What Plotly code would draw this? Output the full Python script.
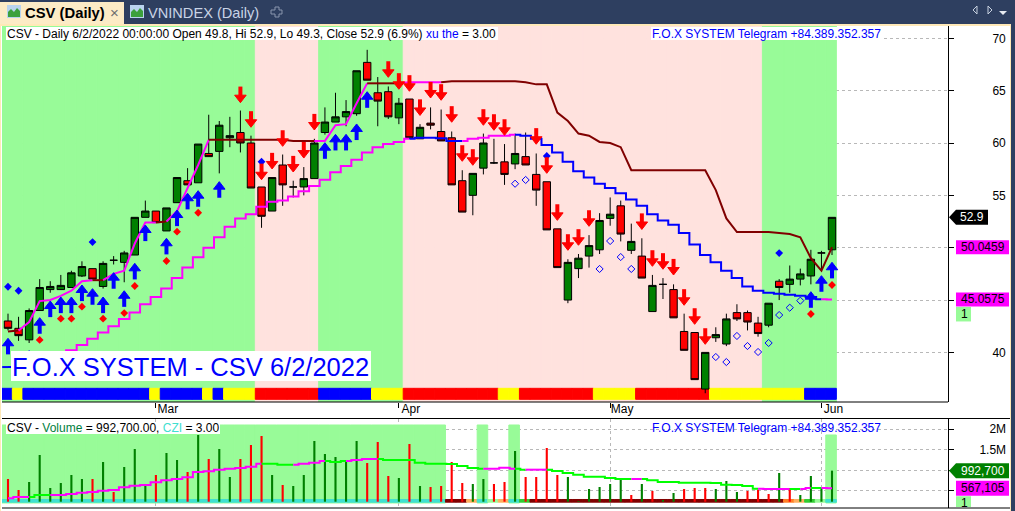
import plotly.graph_objects as go

W, H = 1015, 511
bars = list(range(79))
month_ticks = [14, 37, 57, 77]
month_labels = ["Mar", "Apr", "May", "Jun"]

open_ = [43.0,42.3,41.2,44.0,46.0,46.0,46.2,47.3,48.0,46.3,48.8,48.6,49.3,52.9,53.5,51.6,54.3,56.4,56.2,59.0,
         59.2,60.5,61.0,60.0,55.8,53.5,57.9,55.8,55.8,56.6,61.0,62.0,62.5,62.8,67.7,64.8,64.9,62.4,64.2,60.4,
         61.9,61.1,60.5,56.4,55.0,57.6,58.1,58.2,58.0,58.7,57.0,56.3,51.8,45.0,48.0,49.2,49.8,52.8,54.0,49.75,
         49.2,43.9,46.5,46.0,42.0,41.9,36.5,41.4,40.8,43.8,43.8,42.8,42.6,46.8,46.5,47.0,47.3,49.5,49.8]
high = [43.7,43.4,44.2,47.0,46.8,47.4,47.8,48.7,48.0,48.7,49.2,49.7,52.9,54.5,53.5,53.8,56.7,57.6,59.9,62.7,
        62.1,62.5,63.1,60.7,55.8,56.7,58.9,56.4,57.7,60.4,63.4,64.8,64.1,66.9,68.9,66.3,65.4,64.3,64.2,61.8,
        63.4,63.2,61.1,57.4,57.1,60.9,60.4,59.9,60.9,61.0,59.0,56.3,51.8,48.9,49.4,51.2,53.3,54.8,54.5,52.3,
        50.9,47.4,47.1,46.5,43.7,41.9,40.0,42.4,43.7,44.6,44.0,43.4,44.7,47.0,48.3,48.0,49.8,49.7,52.9]
low = [42.1,41.1,40.9,44.0,45.7,46.0,46.2,47.2,47.0,46.1,48.4,46.7,49.3,52.9,52.4,51.6,54.3,56.0,56.2,58.7,
       57.1,59.6,59.1,55.7,51.9,53.5,54.0,54.8,55.0,56.6,60.8,62.0,61.6,62.6,66.0,61.6,62.3,61.8,60.4,60.4,
       61.3,60.2,56.0,53.4,53.1,57.0,58.0,56.0,57.5,57.9,54.0,51.7,48.1,44.7,47.1,48.1,49.4,52.1,50.6,49.4,
       47.1,43.9,45.1,43.3,40.2,37.4,36.1,41.0,40.6,43.0,42.1,41.5,42.4,45.0,45.7,46.4,46.5,47.8,49.3]
close = [42.3,41.6,44.0,46.2,46.3,46.4,47.6,48.2,47.0,48.5,48.8,49.5,52.9,53.5,52.4,53.8,56.7,56.0,59.9,58.7,
         61.7,60.7,60.0,55.7,53.0,56.7,56.0,55.8,56.6,60.0,62.0,62.5,63.0,66.9,66.0,64.0,62.5,63.8,60.5,61.5,
         61.7,60.2,56.0,53.4,57.1,60.0,58.1,57.0,59.0,57.9,55.5,51.7,48.1,48.6,49.0,50.2,52.6,53.2,51.3,50.6,
         47.1,46.4,46.5,43.3,40.2,37.4,40.0,41.7,43.2,43.2,42.9,41.8,44.7,46.2,47.0,47.5,48.9,49.5,52.9]

upper_line = [42.0,42.1,42.9,44.9,45.0,45.4,45.9,46.8,46.9,46.9,47.5,47.8,50.4,52.4,52.4,52.5,53.5,55.7,57.9,60.3,
              60.3,60.3,60.3,60.3,60.3,60.3,60.3,60.2,60.2,60.2,60.2,61.7,61.8,63.8,65.7,65.7,65.7,65.7,65.8,65.8,
              65.8,65.8,65.9,65.9,65.9,65.9,65.9,65.9,65.9,65.8,65.6,65.6,62.9,62.1,60.9,60.7,60.1,60.0,59.6,57.4,
              57.4,57.4,57.4,57.4,57.4,57.4,57.4,55.5,52.8,51.5,51.5,51.5,51.5,51.4,51.3,51.0,49.0,47.8,50.05]
upper_flags = "BBMMMMMMMBMMMMMBMMMMBBBBBBBBBBMMMMMBBBMMMMBBBBBBBBBBBBBBBBBBBBBBBBBBBBBBBBBBBBBBM"[:79]
lower_line = [38.6,38.8,39.0,39.2,39.4,39.8,40.2,40.7,41.3,41.9,42.5,43.2,43.8,44.6,45.3,46.1,47.1,48.1,49.1,50.0,
              51.0,52.0,52.8,53.2,53.9,54.4,54.5,54.9,55.4,55.9,56.5,57.2,57.8,58.4,59.1,59.6,59.9,60.1,60.4,60.5,
              60.5,60.45,60.2,60.2,60.4,60.5,60.7,60.7,60.8,60.7,60.4,59.8,59.1,58.2,57.3,56.7,56.1,55.7,55.2,54.6,
              54.0,53.2,52.6,52.2,51.4,50.3,49.3,48.6,47.8,47.1,46.3,45.9,45.7,45.6,45.5,45.4,45.3,45.07,45.06]
lower_flags = "L"*6 + "M"*33 + "L"*5 + "M"*5 + "L"*29 + "M"

buy_i = [0,2,3,4,5,6,7,8,9,10,11,12,13,15,16,17,18,20,30,31,32,33,34,76,77,78]
buy_v = [40.68,39.5,42.65,44.24,44.62,44.62,45.77,45.42,44.62,46.95,45.22,47.84,51.5,50.23,52.93,54.53,54.78,55.64,
         59.36,60.16,60.16,61.15,64.23,45.13,46.66,47.94]
sell_i = [22,23,24,25,26,27,28,29,36,37,38,39,40,41,42,43,44,45,46,47,50,51,52,53,54,55,60,61,62,63,64,65,66]
sell_v = [64.52,62.17,57.16,58.19,60.35,57.9,59.23,61.91,66.94,65.8,65.61,63.3,64.97,64.75,62.65,58.92,58.54,62.36,
          61.88,61.4,60.55,57.77,53.28,50.42,50.9,52.71,52.41,48.89,48.61,48.06,45.17,43.35,41.44]
blue_dot_i = [0,1,8,24,51,73]
blue_dot_v = [46.27,45.89,50.54,58.21,58.76,49.49]
red_dot_i = [3,5,6,7,9,11,12,15,16,18,76,78]
red_dot_v = [41.19,43.22,43.22,44.37,43.22,43.76,46.34,48.73,51.53,53.34,43.67,46.44]
open_dot_i = [48,49,56,57,58,59,67,68,69,70,71,72,73,74,75]
open_dot_v = [56.11,56.47,47.97,50.64,49.11,47.97,39.56,39.08,41.57,40.61,40.04,40.9,43.57,44.27,44.94]

regime = ["G"]*24 + ["P"]*6 + ["G"]*8 + ["P"]*34 + ["G"]*7
ribbon = (["b"]*1 + ["y"]*1 + ["b"]*12 + ["y"]*1 + ["b"]*4 + ["y"]*1 + ["b"]*1 + ["y"]*3 + ["r"]*6 + ["b"]*5 + ["y"]*3
          + ["r"]*9 + ["y"]*2 + ["r"]*7 + ["y"]*4 + ["r"]*7 + ["y"]*9 + ["b"]*3)

volume = [.79,.524,.718,1.372,.573,.694,.887,.79,.79,1.202,.476,1.081,1.517,.645,.887,1.42,1.251,.96,1.856,1.275,
          1.517,.839,1.275,1.614,1.832,.887,.645,.621,.887,1.711,1.396,1.323,1.202,1.711,1.178,1.686,.863,.815,1.638,
          .621,.597,.621,1.202,.694,.669,.79,.669,.718,1.469,.839,.839,1.541,.887,.839,.258,.548,.597,.669,.766,.403,
          .669,.5,.282,.452,.548,.573,.573,.548,.742,.476,.5,.531,.427,.936,.573,.403,.863,.573,.9927]
vol_up = "RRGGGGGGRGRGGGRGGRGRGGRRRGRGGGGGGGRRRGRGRRRRGGRRGRRRRGGGGGGRGRGGRRRGGGRRRGRGGGG"[:79]
vol_ma = [.323,.355,.355,.403,.403,.403,.427,.459,.476,.507,.524,.59,.628,.645,.711,.759,.79,.832,.96,.977,
          1.016,1.04,1.057,1.088,1.161,1.161,1.137,1.137,1.161,1.185,1.226,1.202,1.226,1.251,1.275,1.275,1.251,1.251,1.251,
          1.185,1.161,1.161,1.154,1.105,1.057,1.04,1.04,1.064,1.04,1.016,1.016,1.016,.984,.936,.895,.846,.846,.815,.79,.79,
          .79,.759,.718,.718,.701,.701,.701,.694,.653,.645,.621,.556,.548,.548,.548,.548,.573,.573,.567]
vol_ma_flags = "MMMGGMMMMMMMMMMMMMMMMMMMMGGGMMMGGMMMGGGGGGGGGGMMMGMMGGGGGGGGMGGGGGGGGGGGMMMGMGM"[:79]
vol_bg = ["G"]*42 + ["N"]*3 + ["G"] + ["N"]*2 + ["G"] + ["N"]*29 + ["G"]
vol_bg_top = [2.098]*78 + [1.856]
czi = ["c"]*42 + ["d"]*2 + ["o"] + ["c"] + ["l"] + ["o"] + ["c"] + ["g"] + ["d"]*24 + ["f"] + ["o"] + ["g"] + ["l"] + ["c"]

price_ticks = [40,45,50,55,60,65,70]
price_labels = ["40","","","55","60","65","70"]
vol_ticks = [.5,1,1.5,2]
vol_labels = ["","","1.5M","\u00a0\u00a0\u00a02M"]
last_close = 52.9
ma_upper_last = 50.0459
ma_lower_last = 45.0575
last_volume = .9927
last_vol_ma = .567105

GREEN = "#98FB98"; PINK = "#FFE2DE"; CANDLE_G = "#008000"; CANDLE_R = "#FF0000"
MAG = "#FF00FF"; BROWN = "#800000"; BLUE = "#0000FF"
FONT = "Liberation Sans, Arial, sans-serif"

P_TOP, P_BOT = 71.175, 35.263
V_TOP, V_BOT = 2.243, .088
PX = (P_TOP - P_BOT) / 376.0  # price per screen pixel
xp = lambda p: p / W
yp = lambda p: 1 - p / H
price_y = lambda v: 26 + (P_TOP - v) / PX
vol_y = lambda v: 419 + (V_TOP - v) / (V_TOP - V_BOT) * 89

fig = go.Figure()
XA = dict(xaxis="x", yaxis="y")
VA = dict(xaxis="x2", yaxis="y2")
band_x = [b - 0.09 for b in bars]  # colour bands sit a pixel left of the candle centres


def solid(colors):
    return dict(color=colors, line=dict(width=1, color=colors))


fig.add_bar(x=band_x, y=[P_TOP - P_BOT]*79, base=P_BOT, width=1,
            marker=solid([GREEN if r == "G" else PINK for r in regime]), **XA)
rib_c = {"b": BLUE, "y": "#FFFF00", "r": "#FF0000"}
fig.add_bar(x=band_x, y=[1.05]*79, base=35.52, width=1,
            marker=solid([rib_c[c] for c in ribbon]), **XA)


def segments(vals, flags, cmap, shape, width, axes):
    start = 0
    n = len(vals)
    for k in range(1, n + 1):
        if k == n or flags[k] != flags[start]:
            a = max(start - 1, 0)
            fig.add_scatter(x=bars[a:k], y=vals[a:k], mode="lines",
                            line=dict(color=cmap[flags[start]], width=width, shape=shape), **axes)
            start = k


fig.add_scatter(x=[-0.55, 0], y=lower_line[:1]*2, mode="lines", line=dict(color=BLUE, width=2), **XA)
segments(lower_line, lower_flags, {"M": MAG, "L": BLUE}, "hvh", 2, XA)
segments(upper_line, upper_flags, {"M": MAG, "B": BROWN}, "linear", 2, XA)

fig.add_candlestick(x=bars, open=open_, high=high, low=low, close=close, whiskerwidth=0,
                    increasing=dict(line=dict(color="black", width=1), fillcolor=CANDLE_G),
                    decreasing=dict(line=dict(color="black", width=1), fillcolor=CANDLE_R), **XA)

fig.add_scatter(x=blue_dot_i, y=blue_dot_v, mode="markers", marker=dict(symbol="diamond", size=6, color=BLUE), **XA)
fig.add_scatter(x=red_dot_i, y=red_dot_v, mode="markers", marker=dict(symbol="diamond", size=6, color="#FF0000"), **XA)
fig.add_scatter(x=open_dot_i, y=open_dot_v, mode="markers",
                marker=dict(symbol="diamond-open", size=5.5, color=BLUE, line=dict(width=1, color=BLUE)), **XA)

# arrows: a stem plus a head, drawn from the signal values
fig.add_scatter(x=buy_i, y=[v - 3.5 * PX for v in buy_v], mode="markers",
                marker=dict(symbol="line-ns", size=8, line=dict(width=4, color=BLUE)), **XA)
fig.add_scatter(x=buy_i, y=[v + 2 * PX for v in buy_v], mode="markers",
                marker=dict(symbol="triangle-up", size=10, color=BLUE, line=dict(width=1, color=BLUE)), **XA)
fig.add_scatter(x=sell_i, y=[v + 3.5 * PX for v in sell_v], mode="markers",
                marker=dict(symbol="line-ns", size=8, line=dict(width=4, color="#FF0000")), **XA)
fig.add_scatter(x=sell_i, y=[v - 2 * PX for v in sell_v], mode="markers",
                marker=dict(symbol="triangle-down", size=10, color="#FF0000", line=dict(width=1, color="#FF0000")), **XA)

# volume pane
VB = .209
fig.add_bar(x=band_x, y=[t - VB for t in vol_bg_top], base=VB, width=1,
            marker=solid([GREEN if c == "G" else "rgba(0,0,0,0)" for c in vol_bg]), **VA)
czi_c = {"c": "#40E0D0", "d": "#800000", "o": "#FFB060", "l": "#98FB98", "g": "#32CD32", "f": "#FF7F27"}
fig.add_bar(x=band_x, y=[.065]*79, base=.229, width=1,
            marker=solid([czi_c[c] for c in czi]), **VA)
fig.add_bar(x=bars, y=[v - .24 for v in volume], base=.24, width=.2,
            marker=dict(color=[CANDLE_G if c == "G" else CANDLE_R for c in vol_up], line_width=0), **VA)
segments(vol_ma, vol_ma_flags, {"M": MAG, "G": "#00FF00"}, "hvh", 2, VA)

grid = dict(showgrid=True, gridcolor="#B8B8B8", griddash="dot", gridwidth=1, zeroline=False)
fig.update_layout(
    width=W, height=H, margin=dict(l=0, r=0, t=0, b=0, pad=0), autosize=False,
    paper_bgcolor="white", plot_bgcolor="white", showlegend=False, barmode="overlay",
    boxgap=0.3, boxgroupgap=0, hovermode=False,
    font=dict(family=FONT, size=12, color="black"),
    xaxis=dict(domain=[xp(2), xp(948)], range=[-0.568, 88.98], anchor="y", rangeslider_visible=False,
               tickmode="array", tickvals=month_ticks, ticktext=month_labels, ticks="outside", ticklen=5,
               tickcolor="black", ticklabelshift=12, ticklabelstandoff=-9, showline=False, **grid),
    yaxis=dict(domain=[yp(402), yp(26)], range=[P_BOT, P_TOP], side="right", anchor="x",
               tickmode="array", tickvals=price_ticks, ticktext=price_labels, ticks="outside", ticklen=5,
               tickcolor="black", ticklabelstandoff=36, showline=True, linecolor="black", linewidth=1, **grid),
    xaxis2=dict(domain=[xp(2), xp(948)], matches="x", anchor="y2", tickmode="array", tickvals=month_ticks,
                showticklabels=False, ticks="", **grid),
    yaxis2=dict(domain=[yp(508), yp(419)], range=[V_BOT, V_TOP], side="right", anchor="x2",
                tickmode="array", tickvals=vol_ticks, ticktext=vol_labels, ticks="outside", ticklen=5,
                tickcolor="black", ticklabelstandoff=23, showline=True, linecolor="black", linewidth=1, **grid),
)

shapes = []
def rect(x0, y0, x1, y1, color, layer="above"):
    shapes.append(dict(type="rect", xref="paper", yref="paper", x0=xp(x0), x1=xp(x1), y0=yp(y0), y1=yp(y1),
                       fillcolor=color, line_width=0, layer=layer))
def hline(x0, x1, y, color="black", w=1):
    shapes.append(dict(type="line", xref="paper", yref="paper", x0=xp(x0), x1=xp(x1), y0=yp(y), y1=yp(y),
                       line=dict(color=color, width=w), layer="above"))
def poly(pts, fill, line=None, w=0):
    d = "M" + " L".join(f"{xp(a):.5f},{yp(b):.5f}" for a, b in pts) + " Z"
    shapes.append(dict(type="path", xref="paper", yref="paper", path=d, fillcolor=fill,
                       line=dict(color=line or fill, width=w), layer="above"))

NAVY = "#2E3F60"; CREAM = "#FFE9B8"
rect(0, 0, W, 24, NAVY)
rect(0, 24, W, 26, CREAM)
rect(1011, 0, W, H, NAVY)
rect(1010, 24, 1011, H, CREAM)
rect(0, 24, 1, H, CREAM)
rect(1, 26, 2, 402, "white")
rect(0, 2, 124, 24, "#FCEBC6")
# tab icons
for ix in (7, 130):
    rect(ix, 5, ix + 14, 18, "#B9D3EE")
    poly([(ix + 1, 17), (ix + 1, 12), (ix + 4, 9), (ix + 7, 12), (ix + 10, 8), (ix + 13, 11), (ix + 13, 17)], "#3CA03C")
# add-tab cross, navigation glyphs
poly([(275, 7), (279, 7), (279, 10), (282, 10), (282, 14), (279, 14), (279, 17), (275, 17), (275, 14), (271, 14), (271, 10), (275, 10)],
     "rgba(0,0,0,0)", "#8A97AE", 1)
poly([(977, 6), (977, 14), (973, 10)], "rgba(0,0,0,0)", "#C8D2E0", 1)
poly([(988, 6), (988, 14), (992, 10)], "rgba(0,0,0,0)", "#C8D2E0", 1)
poly([(999, 11), (1007, 11), (1003, 15)], "#E8ECF2")
# frame lines
hline(2, 948, 402)
hline(2, 1010, 418.5)
hline(2, 1010, 508)
# legend boxes
rect(6, 27, 498, 40, "white")
rect(651, 27, 884, 40, "white")
rect(11, 351, 371, 381, "white")
rect(6, 423, 220, 434, "white")
# value tags
yc = price_y(last_close)
poly([(949, yc), (956, yc - 7.5), (988, yc - 7.5), (988, yc + 7.5), (956, yc + 7.5)], "black")
rect(956, price_y(ma_upper_last) - 7, 1009, price_y(ma_upper_last) + 7, MAG)
rect(956, price_y(ma_lower_last) - 7, 1009, price_y(ma_lower_last) + 7, MAG)
rect(956, price_y(ma_lower_last) + 7.5, 971, price_y(ma_lower_last) + 22, GREEN)
yc = vol_y(last_volume)
poly([(949, yc), (956, yc - 7.5), (1009, yc - 7.5), (1009, yc + 7.5), (956, yc + 7.5)], CANDLE_G)
rect(956, vol_y(last_vol_ma) - 7.5, 1009, vol_y(last_vol_ma) + 7.5, MAG)
rect(956, vol_y(last_vol_ma) + 8, 971, 507, GREEN)
fig.update_layout(shapes=shapes)

annots = []
def text(x, y, s, size=12, color="black", anchor="left", bold=False):
    annots.append(dict(xref="paper", yref="paper", x=xp(x), y=yp(y), text=f"<b>{s}</b>" if bold else s, showarrow=False,
                       xanchor=anchor, yanchor="middle", borderpad=0, font=dict(size=size, color=color, family=FONT)))

text(24, 13, "CSV (Daily)", 14.8, "black", bold=True)
text(147, 13, "VNINDEX (Daily)", 14.6, "#C9D4E6")
text(114, 12, "×", 15, "#6E6E6E", "center")
text(5.5, 33.5, 'CSV - Daily 6/2/2022 00:00:00 Open 49.8, Hi 52.9, Lo 49.3, Close 52.9 (6.9%) '
              '<span style="color:#0000FF">xu the</span> = 3.00')
fb = "F.O.X SYSTEM Telegram +84.389.352.357"
text(651, 33.5, fb, 12, BLUE)
text(651, 427.5, fb, 12, BLUE)
text(11, 367, "F.O.X SYSTEM - CSV 6/2/2022", 25.5, BLUE)
text(5.5, 428, 'CSV - <span style="color:#008040">Volume</span> = 992,700.00, '
             '<span style="color:#40E0D0">CZI</span> = 3.00')
text(972, price_y(last_close), f"{last_close}", 12, "white", "center")
text(1006, price_y(ma_upper_last), f"{ma_upper_last}", 12, "black", "right")
text(1006, price_y(ma_lower_last), f"{ma_lower_last}", 12, "black", "right")
text(960, price_y(ma_lower_last) + 15, "1", 12, "black")
text(1006, vol_y(last_volume), "992,700", 12, "white", "right")
text(1006, vol_y(last_vol_ma), "567,105", 12, "black", "right")
text(960, vol_y(last_vol_ma) + 15, "1", 12, "black")
fig.update_layout(annotations=annots)

fig.write_html("out.html", config=dict(displayModeBar=False, staticPlot=True),
               post_script="document.body.style.margin='0';document.documentElement.style.overflow='hidden';")
